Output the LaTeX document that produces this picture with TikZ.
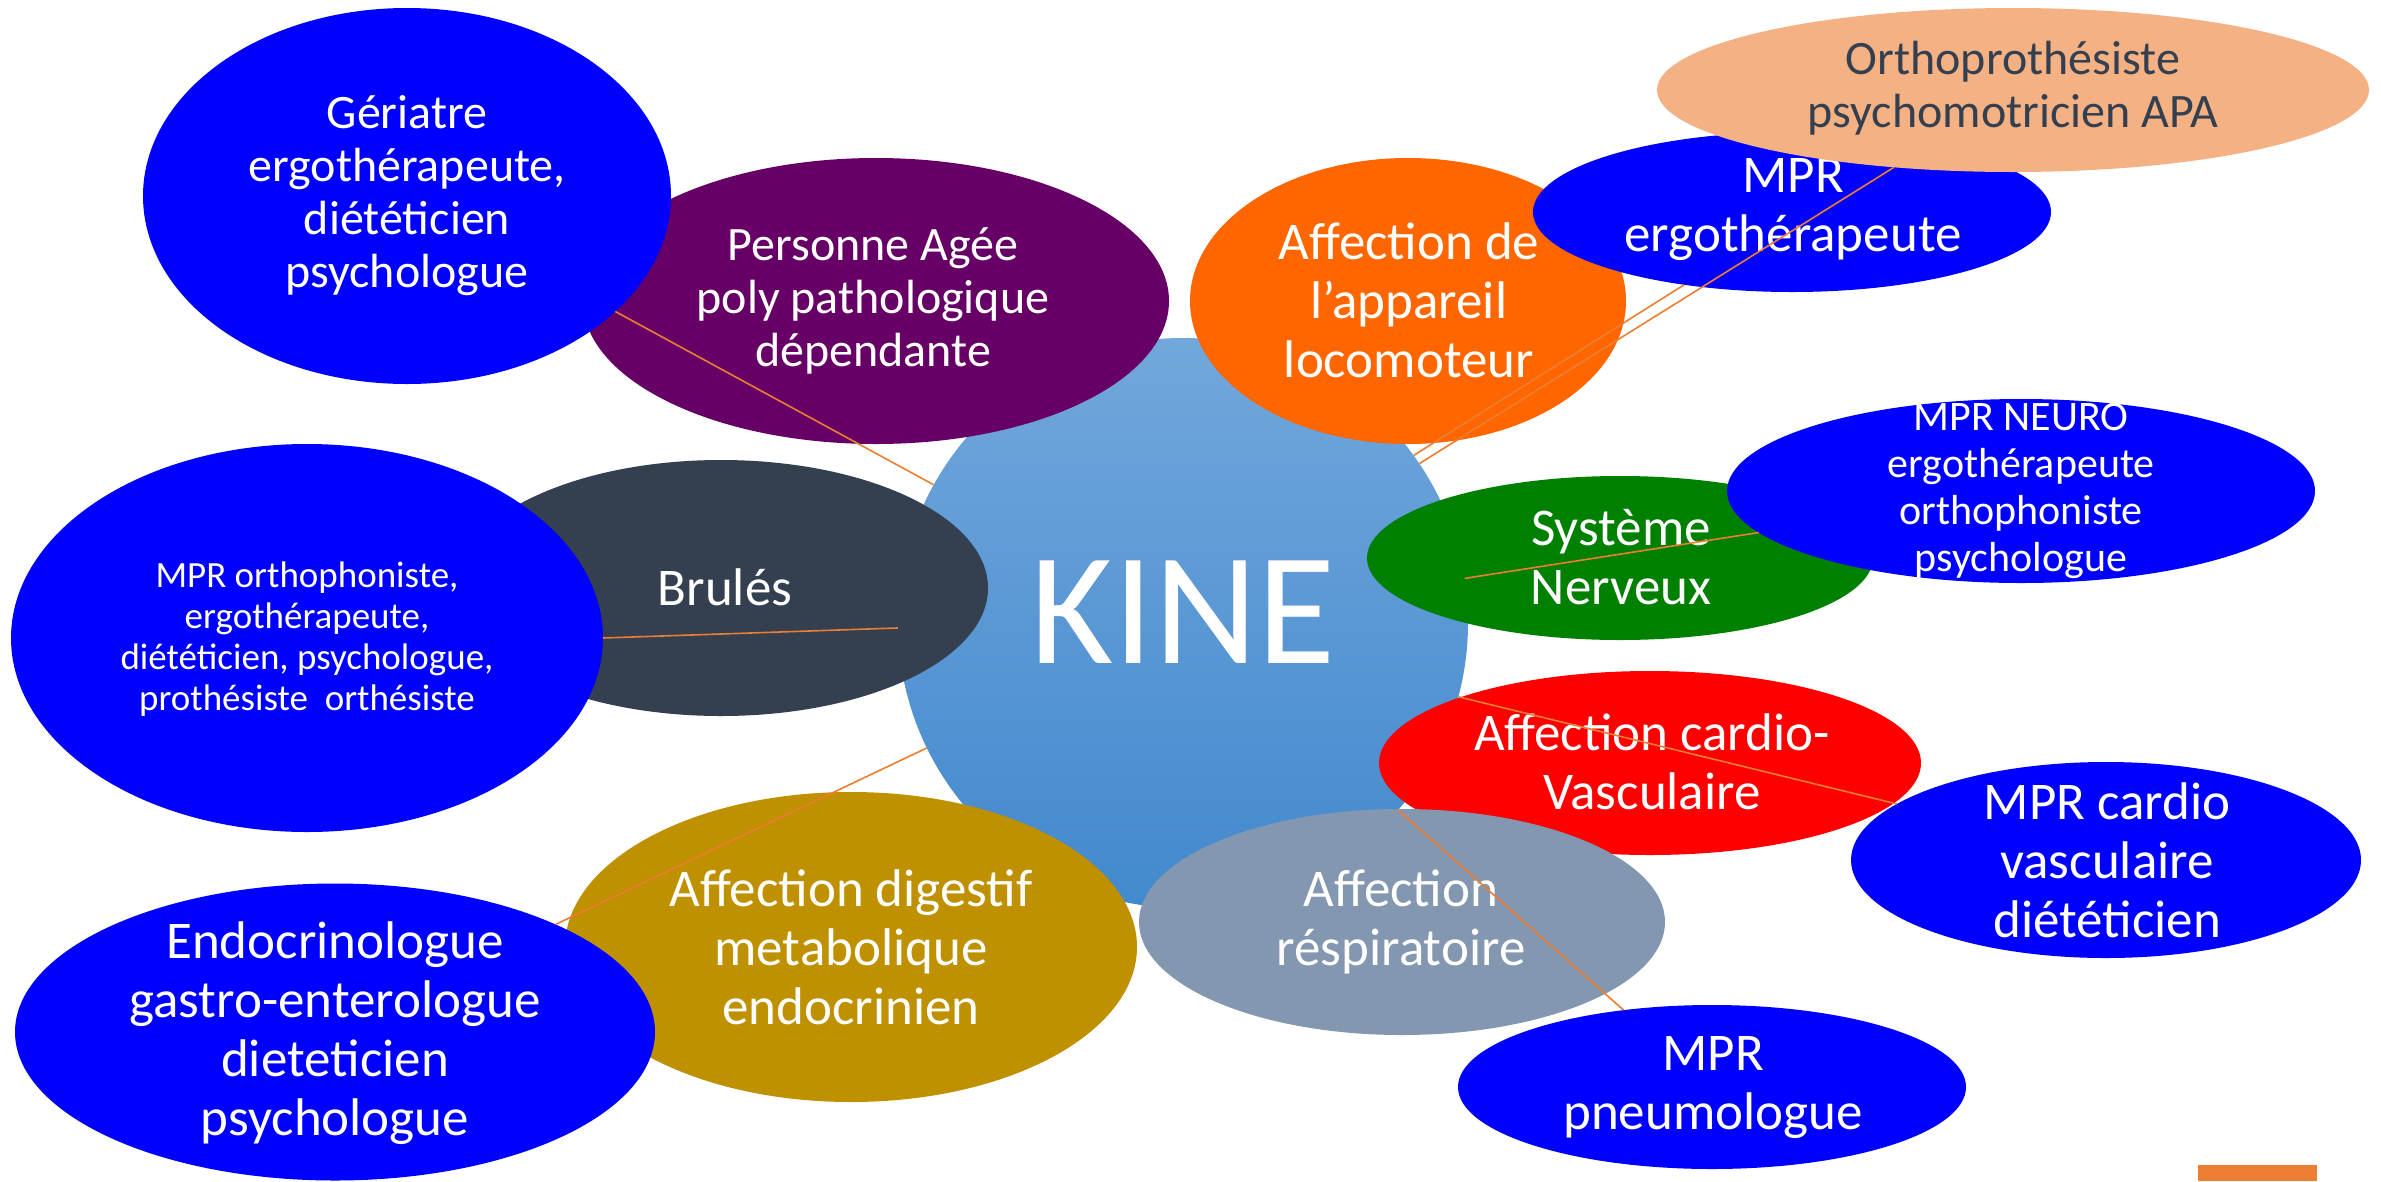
\documentclass[tikz,border=0pt]{standalone}
\usepackage{fontspec}
\setmainfont{Carlito}
\usetikzlibrary{shapes.geometric}
\definecolor{cblue}{RGB}{0,0,255}
\definecolor{cpurple}{RGB}{102,0,102}
\definecolor{cdark}{RGB}{52,63,80}
\definecolor{corange}{RGB}{255,102,0}
\definecolor{cpeach}{RGB}{244,177,131}
\definecolor{cgreen}{RGB}{0,128,0}
\definecolor{cred}{RGB}{255,0,0}
\definecolor{cgray}{RGB}{132,151,176}
\definecolor{cgold}{RGB}{191,144,0}
\definecolor{kinetop}{RGB}{114,167,219}
\definecolor{kinebot}{RGB}{66,137,206}
\definecolor{lineor}{RGB}{237,125,49}
\definecolor{slate}{RGB}{52,63,80}
\begin{document}
\begin{tikzpicture}[x=1pt,y=-1pt,
  ell/.style={ellipse, draw=none, inner sep=0pt, outer sep=0pt},
  txt/.style={text=white, align=center, inner sep=0pt},
  fbig/.style={font=\fontsize{53}{59}\selectfont},
  fmid/.style={font=\fontsize{48}{53}\selectfont},
  fneu/.style={font=\fontsize{42}{47}\selectfont},
  fsml/.style={font=\fontsize{37}{41}\selectfont},
  conn/.style={draw=lineor, line width=1.6pt}]
\useasboundingbox (0,0) rectangle (2381,1181);
\fill[white] (0,0) rectangle (2381,1181);

% central circle
\node[circle, inner sep=0pt, minimum size=570pt, top color=kinetop, bottom color=kinebot, draw=none] (kine) at (1183,623) {};
\node[txt, font=\fontsize{160}{160}\selectfont, anchor=base] (kinet) at (1183,663) {KINE};

% left side
\node[ell, fill=cpurple, minimum width=586pt, minimum height=286pt] (per) at (876,301) {};
\node[txt, fmid] (pert) at (873,301) {Personne Agée\\poly pathologique\\dépendante};
\node[ell, fill=cblue, minimum width=528pt, minimum height=376pt] (ger) at (407,196) {};
\node[txt, fmid] (gert) at (407,196) {Gériatre\\ergothérapeute,\\diététicien\\psychologue};

\node[ell, fill=cdark, minimum width=534pt, minimum height=256pt] (bru) at (721,588) {};
\node[txt, fbig] (brut) at (725,587) {Brulés};
\node[ell, fill=cblue, minimum width=592pt, minimum height=388pt] (mpro) at (307,638) {};
\node[txt, fsml] (mprot) at (307,639) {MPR orthophoniste,\\ergothérapeute,\\diététicien, psychologue,\\prothésiste\ \ orthésiste};

\node[ell, fill=cgold, minimum width=572pt, minimum height=310pt] (dig) at (851,947) {};
\node[txt, fbig] (digt) at (851,947) {Affection digestif\\metabolique\\endocrinien};
\node[ell, fill=cblue, minimum width=640pt, minimum height=297pt] (endo) at (335,1032) {};
\node[txt, fbig] (endot) at (335,1033) {Endocrinologue\\gastro-enterologue\\dieteticien\\psychologue};

% top right
\node[ell, fill=corange, minimum width=436pt, minimum height=286pt] (loco) at (1408,301) {};
\node[txt, fbig] (locot) at (1409,300) {Affection de\\l’appareil\\locomoteur};
\node[ell, fill=cblue, minimum width=518pt, minimum height=160pt] (mpre) at (1792,212) {};
\node[txt, fbig] (mpret) at (1793,210) {MPR\\ergothérapeute};
\node[ell, fill=cpeach, minimum width=712pt, minimum height=164pt] (orth) at (2013,90) {};
\node[txt, fmid, text=slate] (ortht) at (2013,88) {Orthoprothésiste\\psychomotricien APA};

% right side
\node[ell, fill=cgreen, minimum width=506pt, minimum height=164pt] (sys) at (1620,558) {};
\node[txt, fbig] (syst) at (1621,557) {Système\\Nerveux};
\node[ell, fill=cblue, minimum width=588pt, minimum height=184pt] (neuro) at (2021,491) {};
\node[txt, fneu] (neurot) at (2021,491) {MPR NEURO\\ergothérapeute\\orthophoniste\\psychologue};

\node[ell, fill=cred, minimum width=542pt, minimum height=184pt] (card) at (1650,763) {};
\node[txt, fbig] (cardt) at (1652,762) {Affection cardio-\\Vasculaire};
\node[ell, fill=cgray, minimum width=526pt, minimum height=226pt] (resp) at (1402,922) {};
\node[txt, fbig] (respt) at (1401,922) {Affection\\réspiratoire};
\node[ell, fill=cblue, minimum width=510pt, minimum height=196pt] (mprc) at (2106,860) {};
\node[txt, fbig] (mprct) at (2107,860) {MPR cardio\\vasculaire\\diététicien};
\node[ell, fill=cblue, minimum width=508pt, minimum height=164pt] (pneu) at (1712,1087) {};
\node[txt, fbig] (pneut) at (1713,1088) {MPR\\pneumologue};

% connectors
\draw[conn] (ger.-29) -- (kine.151);
\draw[conn] (mpro.0.5) -- (kine.181);
\draw[conn] (endo.26) -- (kine.206);
\draw[conn] (kine.36) -- (mpre.214);
\draw[conn] (kine.34) -- (orth.213);
\draw[conn] (kine.9) -- (neuro.189);
\draw[conn] (kine.-15) -- (mprc.165);
\draw[conn] (kine.-41) -- (pneu.139);

% corner mark
\fill[lineor] (2198,1165) rectangle (2317,1181);
\end{tikzpicture}
\end{document}
